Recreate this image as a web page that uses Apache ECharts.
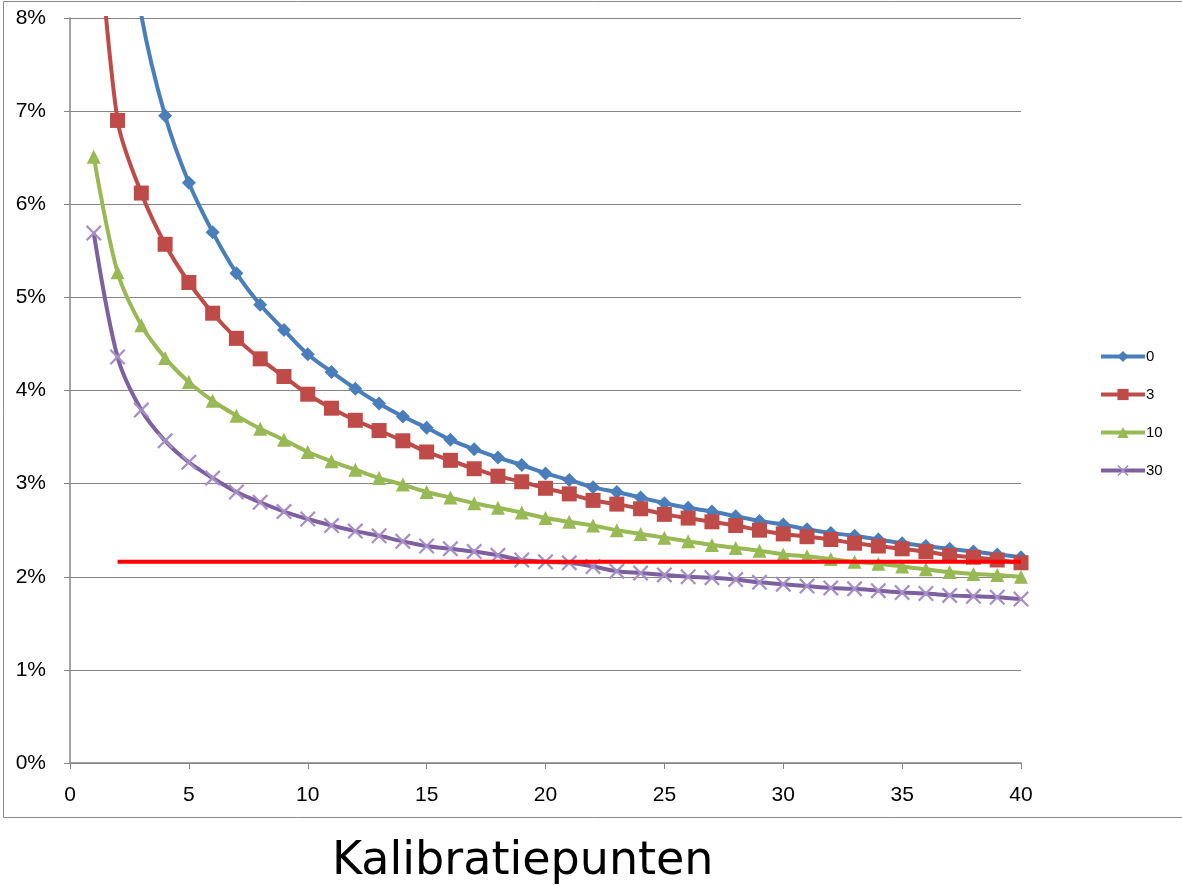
<!DOCTYPE html>
<html>
<head>
<meta charset="utf-8">
<script src="https://cdn.jsdelivr.net/npm/echarts@6/dist/echarts.min.js"></script>
<style>
  html, body { margin: 0; padding: 0; background: #fff; }
  #chart { width: 1182px; height: 886px; }
</style>
</head>
<body>
<div id="chart"></div>
<script>
// x = number of calibration points
const points = Array.from({ length: 40 }, (_, i) => i + 1);

// percentages (values above 8% run off the top)
const s0 = [13.9, 9.8, 8.03, 6.95, 6.23, 5.70, 5.26, 4.92, 4.65, 4.39, 4.20, 4.02, 3.86, 3.72, 3.60, 3.47, 3.37, 3.28, 3.20, 3.11,
  3.04, 2.96, 2.91, 2.85, 2.79, 2.74, 2.70, 2.65, 2.60, 2.56, 2.51, 2.47, 2.44, 2.40, 2.36, 2.33, 2.30, 2.27, 2.24, 2.21];
const s3 = [9.6, 6.90, 6.12, 5.57, 5.16, 4.83, 4.56, 4.34, 4.15, 3.96, 3.81, 3.68, 3.57, 3.46, 3.34, 3.25, 3.16, 3.08, 3.02, 2.95,
  2.89, 2.82, 2.78, 2.73, 2.67, 2.63, 2.59, 2.55, 2.50, 2.46, 2.43, 2.40, 2.36, 2.33, 2.30, 2.27, 2.23, 2.21, 2.18, 2.15];
const s10 = [6.51, 5.27, 4.70, 4.35, 4.09, 3.89, 3.73, 3.59, 3.47, 3.34, 3.24, 3.15, 3.06, 2.99, 2.91, 2.85, 2.79, 2.74, 2.69, 2.63,
  2.59, 2.55, 2.50, 2.46, 2.42, 2.38, 2.34, 2.31, 2.28, 2.24, 2.22, 2.19, 2.16, 2.14, 2.11, 2.08, 2.05, 2.03, 2.02, 2.00];
const s30 = [5.69, 4.36, 3.79, 3.46, 3.23, 3.06, 2.91, 2.80, 2.70, 2.62, 2.55, 2.49, 2.44, 2.38, 2.33, 2.30, 2.27, 2.23, 2.18, 2.16,
  2.15, 2.11, 2.06, 2.04, 2.02, 2.00, 1.99, 1.97, 1.94, 1.92, 1.90, 1.88, 1.87, 1.85, 1.83, 1.82, 1.80, 1.79, 1.78, 1.76];

// red reference line
const refX = [2, 40];
const refY = [2.16, 2.16];

const seriesNames = ['0', '3', '10', '30'];
const seriesColors = ['#4a7ebb', '#be4b48', '#98b954', '#7d60a0'];

const xMark = 'path://M0,1L1,0L5,4L9,0L10,1L6,5L10,9L9,10L5,6L1,10L0,9L4,5Z';

const pair = (ys) => ys.map((y, i) => [points[i], y]);

const lineSeries = (name, data, color, symbol, size, symbolColor) => ({
  name,
  type: 'line',
  data: pair(data),
  smooth: 0.3,
  symbol,
  symbolSize: size,
  showSymbol: true,
  lineStyle: { width: 4, color },
  itemStyle: { color: symbolColor || color },
  emphasis: { disabled: true },
  z: 3
});

const chart = echarts.init(document.getElementById('chart'));

chart.setOption({
  animation: false,
  textStyle: { fontFamily: 'Liberation Sans' },
  grid: { left: 70, right: 161, top: 18, bottom: 123 },
  graphic: [
    {
      type: 'rect',
      shape: { x: 3.5, y: 1.5, width: 1190, height: 816 },
      style: { fill: 'none', stroke: '#898989', lineWidth: 1 },
      silent: true
    }
  ],
  title: {
    text: 'Kalibratiepunten',
    left: 327,
    top: 834,
    textStyle: { fontFamily: 'DejaVu Sans', fontWeight: 'normal', fontSize: 46, color: '#000' }
  },
  legend: {
    orient: 'vertical',
    left: 1094,
    top: 344,
    itemWidth: 44,
    itemHeight: 14,
    itemGap: 23,
    data: seriesNames,
    lineStyle: { width: 4 },
    textStyle: { fontSize: 15, color: '#000', padding: [0, 0, 0, -4] }
  },
  xAxis: {
    type: 'value',
    min: 0,
    max: 40,
    interval: 5,
    axisLine: { show: true, lineStyle: { color: '#868686', width: 1.5 } },
    axisTick: { show: true, length: 6, lineStyle: { color: '#868686' } },
    splitLine: { show: false },
    axisLabel: { color: '#000', fontSize: 21, margin: 22 }
  },
  yAxis: {
    type: 'value',
    min: 0,
    max: 8,
    interval: 1,
    axisLine: { show: true, lineStyle: { color: '#868686', width: 1.5 } },
    axisTick: { show: true, length: 6, lineStyle: { color: '#868686' } },
    splitLine: { show: true, lineStyle: { color: '#868686', width: 1.2 } },
    axisLabel: { color: '#000', fontSize: 21, margin: 24, formatter: '{value}%' }
  },
  series: [
    lineSeries(seriesNames[0], s0, seriesColors[0], 'diamond', 14),
    lineSeries(seriesNames[1], s3, seriesColors[1], 'rect', 15),
    lineSeries(seriesNames[2], s10, seriesColors[2], 'triangle', 14),
    lineSeries(seriesNames[3], s30, seriesColors[3], xMark, 16, '#a58fc6'),
    {
      name: 'ref',
      type: 'line',
      data: refX.map((x, i) => [x, refY[i]]),
      symbol: 'none',
      lineStyle: { width: 4, color: '#ff0000' },
      emphasis: { disabled: true },
      z: 4
    }
  ]
});
</script>
</body>
</html>
